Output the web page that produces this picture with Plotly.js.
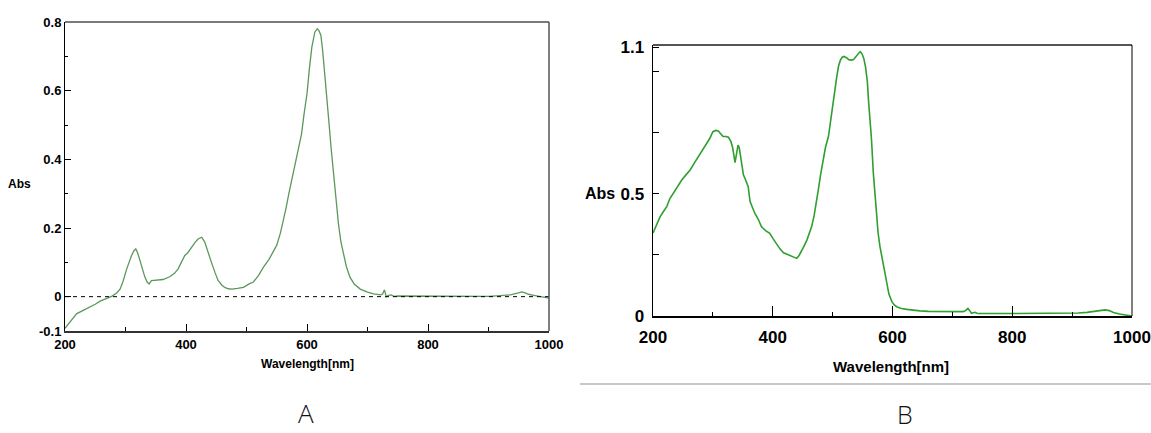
<!DOCTYPE html>
<html>
<head>
<meta charset="utf-8">
<script src="https://cdn.plot.ly/plotly-3.0.1.min.js"></script>
<style>
html,body{margin:0;padding:0;background:#fff;}
#chart{width:1151px;height:433px;}
</style>
</head>
<body>
<div id="chart"></div>
<script>
// ---- Panel A data ----
const waveA = [200,210,219,230,241,250,258,268,277,285,291,296,302,310,314,317,320,324,328,332,336,339,343,350,362,373,381,387,392,398,403,409,415,420,426,431,437,442,448,453,459,464,470,476,485,495,505,511,520,528,537,544,550,556,561,565,570,577,584,591,595,600,604,608,613,617,620,623,626,628,632,635,640,644,648,652,656,660,665,671,678,688,700,710,722,725,728,731,735,739,744,750,800,850,900,919,936,948,955,961,966,975,986,993,1000];
const absA = [-0.092,-0.068,-0.050,-0.040,-0.031,-0.022,-0.013,-0.005,0.001,0.010,0.022,0.045,0.081,0.120,0.134,0.139,0.128,0.105,0.080,0.057,0.042,0.037,0.047,0.048,0.050,0.058,0.068,0.081,0.100,0.120,0.128,0.144,0.158,0.168,0.173,0.159,0.130,0.100,0.070,0.047,0.034,0.027,0.023,0.022,0.024,0.027,0.038,0.042,0.062,0.086,0.108,0.129,0.150,0.185,0.222,0.255,0.300,0.358,0.415,0.474,0.530,0.591,0.665,0.727,0.771,0.780,0.774,0.761,0.715,0.678,0.600,0.533,0.430,0.358,0.280,0.212,0.160,0.124,0.088,0.057,0.037,0.022,0.013,0.008,0.005,0.008,0.020,0.000,0.004,0.005,0.001,0.002,0.001,0.001,0.001,0.003,0.005,0.010,0.014,0.011,0.007,0.004,0.000,-0.002,-0.004];
const xTickValsA = [200,400,600,800,1000];
const xTickTextA = ['200','400','600','800','1000'];
const yTickValsA = [-0.1,0,0.2,0.4,0.6,0.8];
const yTickTextA = ['-0.1','0','0.2','0.4','0.6','0.8'];

// ---- Panel B data ----
const waveB = [200,206,212,218,223,228,238,248,255,262,270,278,285,290,295,300,305,309,313,317,322,326,330,333,337,340,342,344,346,349,351,355,359,362,366,370,376,381,388,395,401,407,412,418,425,432,436,440,444,448,452,457,461,465,469,473,476,480,484,488,493,497,501,504,507,510,513,516,519,523,527,531,535,538,542,546,549,552,555,558,560,563,565,568,572,576,579,582,586,590,594,599,603,607,615,624,635,646,660,680,700,718,722,726,729,732,735,738,741,745,800,850,880,910,925,935,945,955,962,969,979,989,1000];
const absB = [0.340,0.375,0.407,0.430,0.448,0.480,0.520,0.557,0.578,0.598,0.630,0.660,0.685,0.705,0.728,0.755,0.760,0.758,0.748,0.735,0.735,0.732,0.715,0.690,0.628,0.670,0.700,0.690,0.653,0.600,0.578,0.555,0.530,0.470,0.445,0.421,0.395,0.366,0.350,0.339,0.315,0.291,0.275,0.259,0.252,0.246,0.242,0.236,0.248,0.264,0.285,0.311,0.338,0.366,0.410,0.462,0.516,0.580,0.639,0.690,0.735,0.810,0.885,0.935,0.981,1.025,1.048,1.060,1.063,1.058,1.050,1.048,1.050,1.060,1.072,1.083,1.075,1.055,1.020,0.960,0.880,0.790,0.721,0.585,0.448,0.339,0.285,0.243,0.185,0.134,0.090,0.059,0.045,0.038,0.031,0.027,0.023,0.021,0.019,0.018,0.018,0.018,0.022,0.031,0.022,0.011,0.013,0.015,0.011,0.010,0.010,0.010,0.010,0.012,0.015,0.018,0.023,0.025,0.022,0.014,0.008,0.004,0.000];
const xTickValsB = [200,400,600,800,1000];
const xTickTextB = ['200','400','600','800','1000'];
const yTickValsB = [0,0.5,1.1];
const yTickTextB = ['0','0.5','1.1'];

const W = 1151, H = 433;
const px = v => v / W;
const py = v => 1 - v / H;

const fontA = {family:'"Liberation Sans", Arial, sans-serif', size:12, color:'#000', weight:'bold'};
const fontB = {family:'"Liberation Sans", Arial, sans-serif', size:17, color:'#000', weight:'bold'};

const domXA = [px(65), px(549)], domYA = [py(331), py(22)];
const domXB = [px(653), px(1132)], domYB = [py(316), py(45)];

const traces = [
  {x: waveA, y: absA, type:'scatter', mode:'lines', xaxis:'x', yaxis:'y',
   line:{color:'#5b985b', width:1.3}, hoverinfo:'skip'},
  {x: waveB, y: absB, type:'scatter', mode:'lines', xaxis:'x2', yaxis:'y2',
   line:{color:'#2f9f2f', width:1.6}, hoverinfo:'skip'}
];

const layout = {
  width: W, height: H,
  margin:{l:0,r:0,t:0,b:0},
  paper_bgcolor:'#fff', plot_bgcolor:'#fff',
  showlegend:false,
  xaxis:{domain:domXA, range:[200,1000], anchor:'y', showgrid:false, zeroline:false,
    showline:true, linecolor:'#333', linewidth:2,
    tickmode:'array', tickvals:xTickValsA, ticktext:xTickTextA,
    ticks:'inside', ticklen:7, tickcolor:'#000', tickwidth:1,
    tickfont:Object.assign({}, fontA, {size:13}), ticklabeloverflow:'allow',
    minor:{tickmode:'array', tickvals:[300,500,700,900], ticks:'inside', ticklen:4, tickcolor:'#000', tickwidth:1}},
  yaxis:{domain:domYA, range:[-0.1,0.8], anchor:'x', showgrid:false, zeroline:false,
    showline:true, linecolor:'#000', linewidth:1,
    tickmode:'array', tickvals:yTickValsA, ticktext:yTickTextA,
    ticks:'inside', ticklen:6, tickcolor:'#000', tickwidth:1,
    tickfont:Object.assign({}, fontA, {size:13}), ticklabeloverflow:'allow',
    minor:{tickmode:'array', tickvals:[0.1,0.3,0.5,0.7], ticks:'inside', ticklen:3, tickcolor:'#000', tickwidth:1}},
  xaxis2:{domain:domXB, range:[200,1000], anchor:'y2', showgrid:false, zeroline:false,
    showline:true, linecolor:'#000', linewidth:2,
    tickmode:'array', tickvals:xTickValsB, ticktext:xTickTextB,
    ticks:'inside', ticklen:10, tickcolor:'#000', tickwidth:1,
    tickfont:fontB, ticklabeloverflow:'allow', ticklabelstandoff:5,
    minor:{tickmode:'array', tickvals:[300,500,700,900], ticks:'inside', ticklen:4, tickcolor:'#000', tickwidth:1}},
  yaxis2:{domain:domYB, range:[0,1.11], anchor:'x2', showgrid:false, zeroline:false,
    showline:true, linecolor:'#000', linewidth:1.5,
    tickmode:'array', tickvals:yTickValsB, ticktext:yTickTextB,
    ticks:'inside', ticklen:6, tickcolor:'#000', tickwidth:1,
    tickfont:fontB, ticklabeloverflow:'allow', ticklabelstandoff:4,
    minor:{tickmode:'array', tickvals:[0.25,0.75,1.0], ticks:'inside', ticklen:6, tickcolor:'#000', tickwidth:1}},
  shapes:[
    // zero reference line panel A
    {type:'line', xref:'x', yref:'y', x0:200, x1:1000, y0:0, y1:0, line:{color:'#000', width:1, dash:'4px,4px'}},
    // panel A top & right frame
    {type:'line', xref:'paper', yref:'paper', x0:domXA[0], x1:domXA[1], y0:domYA[1], y1:domYA[1], line:{color:'#7a7a7a', width:2}},
    {type:'line', xref:'paper', yref:'paper', x0:domXA[1], x1:domXA[1], y0:domYA[0], y1:domYA[1], line:{color:'#555', width:1.5}},
    // panel B top & right frame
    {type:'line', xref:'paper', yref:'paper', x0:domXB[0], x1:domXB[1], y0:domYB[1], y1:domYB[1], line:{color:'#555', width:2}},
    {type:'line', xref:'paper', yref:'paper', x0:domXB[1], x1:domXB[1], y0:domYB[0], y1:domYB[1], line:{color:'#000', width:1}},
    // separator line under panel B
    {type:'line', xref:'paper', yref:'paper', x0:px(580), x1:1, y0:py(384), y1:py(384), line:{color:'#c8c8c8', width:2}}
  ],
  annotations:[
    {text:'Abs', xref:'paper', yref:'paper', x:px(19), y:py(184), xanchor:'center', yanchor:'middle', showarrow:false, font:fontA},
    {text:'Wavelength[nm]', xref:'paper', yref:'paper', x:px(307), y:py(364), xanchor:'center', yanchor:'middle', showarrow:false, font:fontA},
    {text:'Abs', xref:'paper', yref:'paper', x:px(600), y:py(193), xanchor:'center', yanchor:'middle', showarrow:false, font:Object.assign({}, fontB, {size:16})},
    {text:'Wavelength[nm]', xref:'paper', yref:'paper', x:px(891), y:py(366), xanchor:'center', yanchor:'middle', showarrow:false, font:Object.assign({}, fontB, {size:15})},
    {text:'A', xref:'paper', yref:'paper', x:px(306), y:py(433), xanchor:'center', yanchor:'bottom', showarrow:false, font:{family:'"Open Sans", "Noto Sans", sans-serif', size:26, color:'#111', weight:300}},
    {text:'B', xref:'paper', yref:'paper', x:px(905), y:py(433), xanchor:'center', yanchor:'bottom', showarrow:false, font:{family:'"Open Sans", "Noto Sans", sans-serif', size:25, color:'#111', weight:300}}
  ]
};

Plotly.newPlot('chart', traces, layout, {staticPlot:true, displayModeBar:false});
</script>
</body>
</html>
